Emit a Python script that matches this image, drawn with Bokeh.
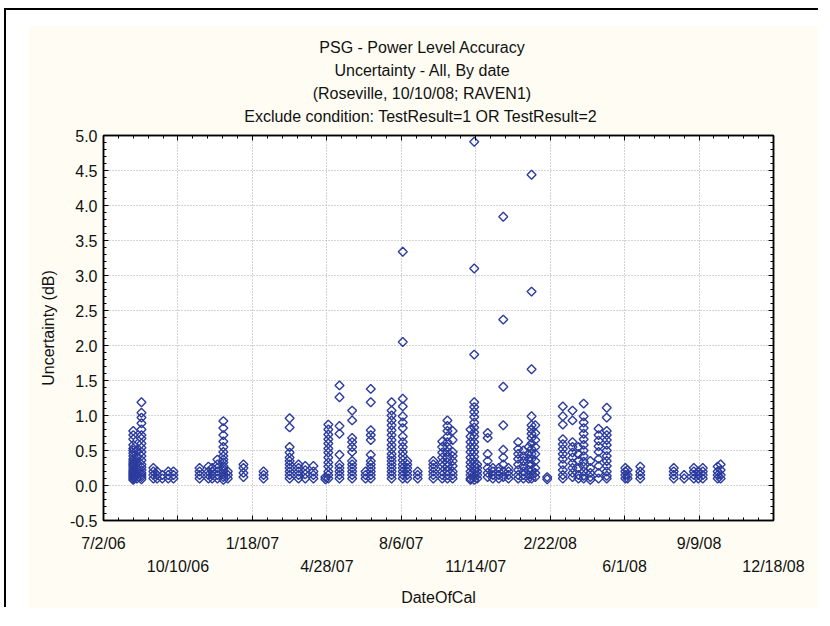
import math
import pandas as pd
from bokeh.plotting import figure
from bokeh.models import (FixedTicker, LinearAxis, Title, PrintfTickFormatter,
                          Range1d, ColumnDataSource, Spacer)
from bokeh.layouts import column, row
from bokeh.embed import file_html
from bokeh.resources import INLINE

# ---------------- data ----------------
TITLE_LINES = [
    "PSG - Power Level Accuracy",
    "Uncertainty - All, By date",
    "(Roseville, 10/10/08; RAVEN1)",
    "Exclude condition: TestResult=1 OR TestResult=2",
]
X_LABEL = "DateOfCal"
Y_LABEL = "Uncertainty (dB)"

X_TICK_DATES = ["2006-07-02", "2006-10-10", "2007-01-18", "2007-04-28", "2007-08-06",
                "2007-11-14", "2008-02-22", "2008-06-01", "2008-09-09", "2008-12-18"]
X_TICK_LABELS = ["7/2/06", "10/10/06", "1/18/07", "4/28/07", "8/6/07",
                 "11/14/07", "2/22/08", "6/1/08", "9/9/08", "12/18/08"]
Y_TICKS = [-0.5, 0.0, 0.5, 1.0, 1.5, 2.0, 2.5, 3.0, 3.5, 4.0, 4.5, 5.0]

CAL_DATES = [
    "2006-08-11", "2006-08-16", "2006-08-22", "2006-09-07", "2006-09-12", "2006-09-19",
    "2006-09-27", "2006-10-04", "2006-11-08", "2006-11-20", "2006-11-25", "2006-12-02",
    "2006-12-10", "2006-12-16", "2007-01-06", "2007-02-02", "2007-03-09", "2007-03-21",
    "2007-03-30", "2007-04-10", "2007-04-26", "2007-04-30", "2007-05-15", "2007-06-01",
    "2007-06-19", "2007-06-26", "2007-07-24", "2007-08-08", "2007-08-14", "2007-08-28",
    "2007-09-18", "2007-09-30", "2007-10-07", "2007-10-14", "2007-11-07", "2007-11-12",
    "2007-11-16", "2007-11-30", "2007-12-07", "2007-12-15", "2007-12-21", "2007-12-28",
    "2008-01-10", "2008-01-17", "2008-01-24", "2008-01-28", "2008-02-02", "2008-02-18",
    "2008-03-10", "2008-03-23", "2008-03-31", "2008-04-07", "2008-04-16", "2008-04-27",
    "2008-05-08", "2008-06-02", "2008-06-05", "2008-06-22", "2008-08-06", "2008-08-20",
    "2008-09-02", "2008-09-08", "2008-09-14", "2008-10-04", "2008-10-08",
]
CAL_VALUES = [
    [0.78, 0.72, 0.66, 0.58, 0.53, 0.5, 0.46, 0.42, 0.38, 0.35, 0.32, 0.3, 0.28, 0.25, 0.22, 0.2, 0.18, 0.16, 0.14, 0.12, 0.1, 0.08],
    [0.5, 0.4, 0.32, 0.25, 0.2, 0.15, 0.1],
    [1.19, 1.04, 0.97, 0.89, 0.8, 0.72, 0.67, 0.6, 0.54, 0.48, 0.42, 0.36, 0.3, 0.26, 0.22, 0.18, 0.15, 0.12, 0.09],
    [0.25, 0.2, 0.15, 0.1],
    [0.2, 0.15, 0.1],
    [0.15, 0.1],
    [0.2, 0.15, 0.1],
    [0.2, 0.15, 0.1],
    [0.25, 0.2, 0.15, 0.1],
    [0.27, 0.2, 0.15, 0.1],
    [0.25, 0.2, 0.15, 0.1],
    [0.37, 0.3, 0.25, 0.2, 0.15, 0.1],
    [0.92, 0.82, 0.72, 0.63, 0.55, 0.48, 0.42, 0.37, 0.33, 0.28, 0.24, 0.2, 0.16, 0.12, 0.08],
    [0.2, 0.15, 0.1],
    [0.3, 0.25, 0.18, 0.12],
    [0.2, 0.15, 0.1],
    [0.96, 0.83, 0.55, 0.47, 0.4, 0.35, 0.3, 0.25, 0.2, 0.15, 0.1],
    [0.3, 0.25, 0.2, 0.15, 0.1],
    [0.28, 0.22, 0.16, 0.1],
    [0.28, 0.2, 0.15, 0.1],
    [0.12, 0.09],
    [0.87, 0.8, 0.73, 0.66, 0.6, 0.53, 0.47, 0.4, 0.33, 0.27, 0.2, 0.15, 0.1],
    [1.43, 1.26, 0.85, 0.74, 0.44, 0.3, 0.25, 0.2, 0.15, 0.1],
    [1.07, 0.93, 0.68, 0.62, 0.55, 0.48, 0.35, 0.3, 0.25, 0.2, 0.15, 0.1],
    [0.2, 0.15, 0.1],
    [1.38, 1.19, 0.79, 0.72, 0.65, 0.44, 0.35, 0.3, 0.25, 0.2, 0.15, 0.1],
    [1.19, 1.07, 1.0, 0.93, 0.86, 0.79, 0.72, 0.65, 0.58, 0.52, 0.45, 0.4, 0.35, 0.3, 0.25, 0.2, 0.15, 0.1],
    [3.34, 2.05, 1.24, 1.13, 0.99, 0.9, 0.82, 0.7, 0.62, 0.55, 0.48, 0.42, 0.36, 0.3, 0.25, 0.2, 0.15, 0.1],
    [0.35, 0.3, 0.25, 0.2, 0.15, 0.1],
    [0.2, 0.15, 0.1],
    [0.35, 0.3, 0.25, 0.2, 0.15, 0.1],
    [0.63, 0.55, 0.47, 0.4, 0.33, 0.27, 0.2, 0.15, 0.1],
    [0.93, 0.85, 0.78, 0.7, 0.62, 0.55, 0.48, 0.4, 0.33, 0.27, 0.2, 0.15, 0.1],
    [0.78, 0.65, 0.48, 0.42, 0.35, 0.28, 0.2, 0.15, 0.1],
    [0.8, 0.7, 0.62, 0.55, 0.48, 0.4, 0.33, 0.27, 0.2, 0.15, 0.1, 0.08],
    [4.91, 3.1, 1.87, 1.19, 1.12, 1.05, 0.98, 0.9, 0.83, 0.76, 0.7, 0.62, 0.55, 0.48, 0.41, 0.34, 0.28, 0.22, 0.16, 0.12, 0.08],
    [0.3, 0.25, 0.2, 0.15, 0.1],
    [0.75, 0.68, 0.45, 0.35, 0.25, 0.18, 0.12],
    [0.25, 0.2, 0.15, 0.1],
    [0.25, 0.2, 0.15, 0.1],
    [3.84, 2.37, 1.41, 0.86, 0.51, 0.4, 0.3, 0.2, 0.12],
    [0.25, 0.2, 0.15, 0.1],
    [0.62, 0.52, 0.45, 0.38, 0.3, 0.22, 0.15, 0.1],
    [0.5, 0.42, 0.35, 0.28, 0.2, 0.15, 0.1],
    [0.55, 0.45, 0.38, 0.3, 0.22, 0.15, 0.1],
    [4.44, 2.77, 1.66, 0.99, 0.86, 0.8, 0.74, 0.68, 0.6, 0.52, 0.45, 0.38, 0.3, 0.22, 0.15, 0.1],
    [0.86, 0.75, 0.65, 0.55, 0.45, 0.35, 0.25, 0.18, 0.12],
    [0.12, 0.09],
    [1.13, 0.99, 0.87, 0.66, 0.59, 0.52, 0.45, 0.38, 0.3, 0.22, 0.15, 0.1],
    [1.07, 0.93, 0.62, 0.55, 0.47, 0.4, 0.32, 0.25, 0.18, 0.12],
    [0.55, 0.45, 0.35, 0.25, 0.15, 0.1],
    [1.17, 0.99, 0.9, 0.82, 0.74, 0.66, 0.58, 0.5, 0.42, 0.34, 0.27, 0.2, 0.14, 0.1],
    [0.35, 0.25, 0.18, 0.12, 0.08],
    [0.81, 0.72, 0.64, 0.56, 0.48, 0.38, 0.28, 0.18, 0.1],
    [1.11, 0.97, 0.78, 0.72, 0.65, 0.58, 0.5, 0.42, 0.35, 0.28, 0.2, 0.14, 0.1],
    [0.25, 0.2, 0.15, 0.1],
    [0.22, 0.15, 0.1],
    [0.27, 0.2, 0.15, 0.1],
    [0.25, 0.2, 0.15, 0.1],
    [0.15, 0.1],
    [0.25, 0.2, 0.15, 0.1],
    [0.2, 0.15, 0.1],
    [0.25, 0.2, 0.15, 0.1],
    [0.27, 0.2, 0.15, 0.1],
    [0.3, 0.22, 0.15, 0.1],
]

# ---------------- build ----------------
ORIGIN = pd.Timestamp(X_TICK_DATES[0])
def to_day(s):
    return (pd.Timestamp(s) - ORIGIN).days

xs, ys = [], []
for d, vals in zip(CAL_DATES, CAL_VALUES):
    for v in vals:
        xs.append(to_day(d))
        ys.append(v)
src = ColumnDataSource(dict(day=xs, val=ys))

x_ticks = [to_day(d) for d in X_TICK_DATES]
x_minor = list(range(x_ticks[0], x_ticks[-1] + 1, 20))
y_minor = [round(-0.5 + 0.1 * i, 2) for i in range(56)]

FONT = "Liberation Sans"
FS_PX = 16
FS = f"{FS_PX}px"
CREAM = "#FFFDF3"
BLUE = "#2C3C9E"
BORDER_L, BORDER_R, BORDER_T, BORDER_B = 75, 45, 110, 88
FIG_W, FIG_H = 790, 583

# Arial / Liberation Sans advance widths (1/1000 em), used to centre the title lines on the panel
_W = {" ": 278, "(": 333, ")": 333, ",": 278, "-": 333, ".": 278, "/": 278, ":": 278, ";": 278,
      "=": 584, "A": 667, "B": 667, "C": 722, "D": 722, "E": 667, "G": 778, "L": 556, "N": 722,
      "O": 778, "P": 667, "R": 722, "S": 667, "T": 611, "U": 722, "V": 667, "a": 556, "b": 556,
      "c": 500, "d": 556, "e": 556, "f": 278, "i": 222, "l": 222, "n": 556, "o": 556, "r": 333,
      "s": 500, "t": 278, "u": 556, "v": 500, "w": 722, "x": 500, "y": 500}
def text_w(s):
    return sum(_W.get(ch, 556) for ch in s) * FS_PX / 1000.0

p = figure(width=FIG_W, height=FIG_H, output_backend="svg", toolbar_location=None,
           x_range=Range1d(x_ticks[0], x_ticks[-1]), y_range=Range1d(Y_TICKS[0], Y_TICKS[-1]),
           min_border_left=BORDER_L, min_border_right=BORDER_R,
           min_border_top=BORDER_T, min_border_bottom=BORDER_B)
p.margin = (15, 0, 0, 22)
p.background_fill_color = "white"
p.border_fill_color = CREAM
p.outline_line_color = "black"
p.outline_line_width = 1.5

xt = FixedTicker(ticks=x_ticks, minor_ticks=x_minor)
yt = FixedTicker(ticks=Y_TICKS, minor_ticks=y_minor)

def style_axis(ax):
    ax.major_tick_in = 5
    ax.major_tick_out = 0
    ax.minor_tick_in = 3
    ax.minor_tick_out = 0
    ax.axis_line_color = "black"
    ax.axis_line_width = 1.5
    ax.major_tick_line_color = "black"
    ax.minor_tick_line_color = "black"
    ax.major_label_text_font = FONT
    ax.major_label_text_font_size = FS
    ax.major_label_text_color = "#111111"
    ax.axis_label_text_font = FONT
    ax.axis_label_text_font_size = FS
    ax.axis_label_text_font_style = "normal"
    ax.axis_label_text_color = "#111111"

# bottom axis, first row of labels
xa = p.xaxis[0]
xa.ticker = xt
style_axis(xa)
xa.major_label_overrides = {t: (lab if i % 2 == 0 else "") for i, (t, lab) in enumerate(zip(x_ticks, X_TICK_LABELS))}
xa.major_label_standoff = 14

# bottom axis, second row of labels
xa2 = LinearAxis(ticker=xt)
style_axis(xa2)
xa2.major_label_overrides = {t: (lab if i % 2 == 1 else "") for i, (t, lab) in enumerate(zip(x_ticks, X_TICK_LABELS))}
xa2.major_tick_line_color = None
xa2.minor_tick_line_color = None
xa2.axis_line_color = None
xa2.major_label_standoff = 3
xa2.axis_label = X_LABEL
xa2.axis_label_standoff = 11
p.add_layout(xa2, "below")

ya = p.yaxis[0]
ya.ticker = yt
style_axis(ya)
ya.formatter = PrintfTickFormatter(format="%.1f")
ya.major_label_standoff = 6
ya.axis_label = Y_LABEL
ya.axis_label_standoff = 10

top = LinearAxis(ticker=xt)
style_axis(top)
top.major_label_text_color = None
top.major_label_text_font_size = "0px"
p.add_layout(top, "above")

# invisible spacer axis: keeps the title block a little above the frame
spacer = LinearAxis(ticker=xt, major_tick_in=0, major_tick_out=9, minor_tick_in=0, minor_tick_out=0,
                    major_tick_line_color=None, minor_tick_line_color=None, axis_line_color=None,
                    major_label_text_color=None, major_label_text_font_size="0px")
p.add_layout(spacer, "above")

right = LinearAxis(ticker=yt)
style_axis(right)
right.major_label_text_color = None
right.major_label_text_font_size = "0px"
p.add_layout(right, "right")

for g, t in ((p.xgrid[0], xt), (p.ygrid[0], yt)):
    g.ticker = t
    g.grid_line_color = "#A8A8A8"
    g.grid_line_dash = "1 2"
    g.grid_line_width = 1

# title lines, stacked upward from the plot, centred over the cream panel
panel_centre = FIG_W / 2.0 - 1
for txt in reversed(TITLE_LINES):
    off = panel_centre - BORDER_L - text_w(txt) / 2.0
    p.add_layout(Title(text=txt, align="left", offset=off, standoff=4,
                       text_font=FONT, text_font_size=FS, text_font_style="normal",
                       text_color="#111111"), "above")

p.scatter(x="day", y="val", source=src, marker="square", angle=math.pi / 4, size=6.3,
          fill_color=None, line_color=BLUE, line_width=1.4)

# thin black window edges (left and top), as in the screenshot
top_edge = Spacer(width=814, height=2, margin=0, styles={"background-color": "#000000"})
left_edge = Spacer(width=2, height=597, margin=0, styles={"background-color": "#000000"})
layout = column(top_edge, row(left_edge, p), margin=(8, 0, 0, 4))
open("out.html", "w").write(file_html(layout, INLINE))
